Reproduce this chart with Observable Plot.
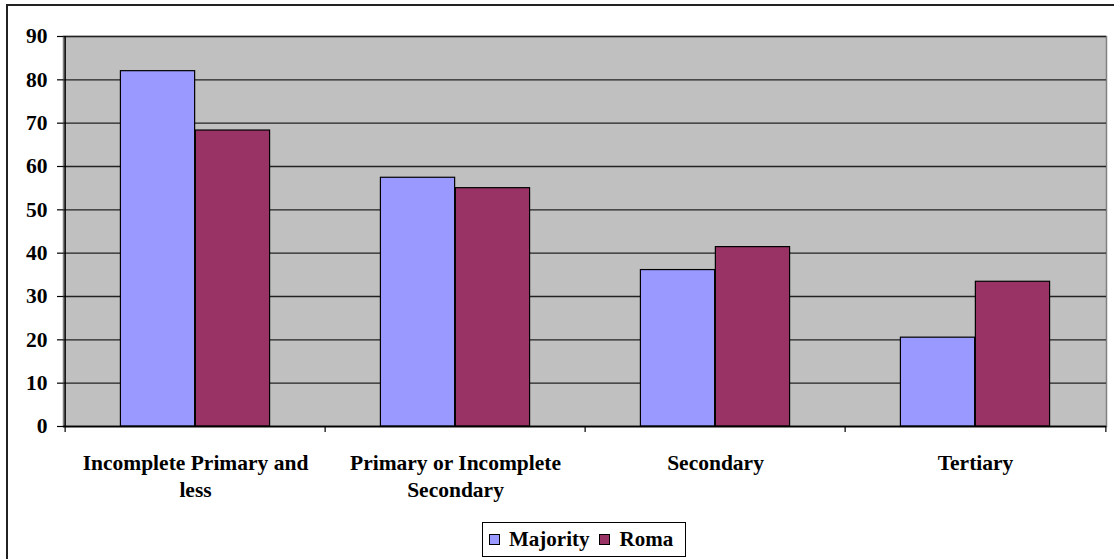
<!DOCTYPE html>
<html>
<head>
<meta charset="utf-8">
<script src="https://cdn.jsdelivr.net/npm/d3@7"></script>
<script src="https://cdn.jsdelivr.net/npm/@observablehq/plot@0.6"></script>
<style>
  html, body { margin: 0; padding: 0; background: #fff; }
  #wrap { position: relative; width: 1114px; height: 559px; overflow: hidden; font-family: 'Liberation Serif', serif; }
  #border { position: absolute; left: 6px; top: 4px; right: -10px; bottom: -10px; border-left: 2px solid #222; border-top: 2px solid #222; pointer-events: none; }
  #chart { position: absolute; left: 0; top: 0; }
  #chart svg text { font-family: 'Liberation Serif', serif !important; }
  #legend { position: absolute; left: 482px; top: 522px; width: 204px; height: 35px; box-sizing: border-box; border: 1px solid #000; display: flex; align-items: center; padding-left: 6px; font-weight: bold; font-size: 21px; color: #000; font-family: 'Liberation Serif', serif; }
  .sw { width: 11px; height: 11px; border: 1px solid #000; box-sizing: border-box; margin-right: 9px; }
  .item { display: flex; align-items: center; margin-right: 10px; }
</style>
</head>
<body>
<div id="wrap">
  <div id="chart"></div>
  <div id="legend"></div>
  <div id="border"></div>
</div>
<script>
const categories = ["Incomplete Primary and less", "Primary or Incomplete Secondary", "Secondary", "Tertiary"];
const categoryLabels = ["Incomplete Primary and\nless", "Primary or Incomplete\nSecondary", "Secondary", "Tertiary"];
const seriesNames = ["Majority", "Roma"];
const majority = [82, 57.4, 36.1, 20.5];
const roma = [68.3, 55, 41.4, 33.4];
const yTicks = [0, 10, 20, 30, 40, 50, 60, 70, 80, 90];
const colors = ["#9999FF", "#993366"];

const data = [];
categories.forEach((c, i) => {
  data.push({cat: c, series: "Majority", value: majority[i]});
  data.push({cat: c, series: "Roma", value: roma[i]});
});

const width = 1114, height = 510;
const marginLeft = 63, marginRight = 8, marginTop = 36, marginBottom = 84;
const step = (width - marginLeft - marginRight) / categories.length;
const barW = step * 0.2875;
const outer = (step - 2 * barW) / 2;
const fontSize = 21.5;
const font = "'Liberation Serif', serif";

const labelOf = new Map(categories.map((c, i) => [c, categoryLabels[i]]));

const chart = Plot.plot({
  width, height, marginLeft, marginRight, marginTop, marginBottom,
  style: {fontFamily: font, background: "transparent", color: "#000"},
  x: {domain: categories, padding: 0},
  y: {domain: [0, 90]},
  marks: [
    Plot.frame({fill: "#C0C0C0", stroke: "#808080", strokeWidth: 1.5}),
    Plot.ruleY(yTicks, {stroke: "#222", strokeWidth: 1.3}),
    Plot.barY(data.filter(d => d.series === "Majority"), {
      x: "cat", y: "value", fill: colors[0], stroke: "#000", strokeWidth: 1.2,
      insetLeft: outer, insetRight: outer + barW
    }),
    Plot.barY(data.filter(d => d.series === "Roma"), {
      x: "cat", y: "value", fill: colors[1], stroke: "#000", strokeWidth: 1.2,
      insetLeft: outer + barW, insetRight: outer
    }),
    Plot.ruleY([0], {stroke: "#000", strokeWidth: 1.5}),
    Plot.ruleX(categories.slice(0, 1), {x: d => d, dx: -step / 2, stroke: "#000", strokeWidth: 1.5}),
    Plot.ruleX(categories, {x: d => d, dx: -step / 2, y1: 0, y2: 0, insetBottom: -6, stroke: "#000", strokeWidth: 1.2}),
    Plot.ruleX(categories.slice(-1), {x: d => d, dx: step / 2, y1: 0, y2: 0, insetBottom: -6, stroke: "#000", strokeWidth: 1.2}),
    Plot.axisY({ticks: yTicks, tickSize: 6, tickPadding: 10, fontSize, fontFamily: font, fontWeight: "bold", fill: "#000", stroke: "#000", strokeWidth: 1.2, label: null}),
    Plot.axisX({tickSize: 0, tickPadding: 24, fontSize, fontFamily: font, fontWeight: "bold", fill: "#000", lineHeight: 1.27, tickFormat: d => labelOf.get(d), label: null})
  ]
});
document.getElementById("chart").appendChild(chart);

const legend = document.getElementById("legend");
seriesNames.forEach((s, i) => {
  const item = document.createElement("div");
  item.className = "item";
  const sw = document.createElement("div");
  sw.className = "sw";
  sw.style.background = colors[i];
  const t = document.createElement("span");
  t.textContent = s;
  item.appendChild(sw);
  item.appendChild(t);
  legend.appendChild(item);
});
</script>
</body>
</html>
